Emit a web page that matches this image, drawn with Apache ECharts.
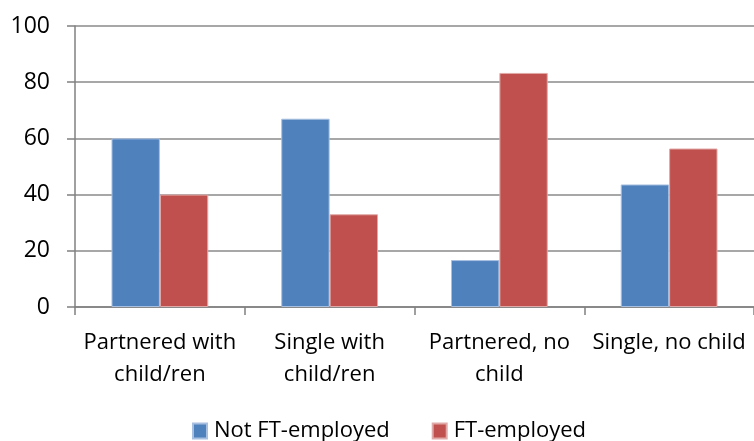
<!DOCTYPE html>
<html>
<head>
<meta charset="utf-8">
<script src="https://cdn.jsdelivr.net/npm/echarts@6/dist/echarts.min.js"></script>
<style>
html,body{margin:0;padding:0;background:#fff;}
#c{width:754px;height:441px;}
</style>
</head>
<body>
<div id="c"></div>
<script>
const categories = ['Partnered with\nchild/ren', 'Single with\nchild/ren', 'Partnered, no\nchild', 'Single, no child'];
const seriesNames = ['Not FT-employed', 'FT-employed'];
const notFTEmployed = [60, 67, 16.7, 43.6];
const ftEmployed = [40, 33, 83.3, 56.4];
const yTicks = [0, 20, 40, 60, 80, 100];

const FONT = '"Open Sans", sans-serif';
const chart = echarts.init(document.getElementById('c'), null, {renderer: 'canvas'});
chart.setOption({
  animation: false,
  backgroundColor: '#ffffff',
  grid: {left: 75, right: -2, top: 26, bottom: 134, containLabel: false},
  legend: {
    data: seriesNames,
    left: 192,
    top: 417,
    padding: 0,
    itemWidth: 14,
    itemHeight: 15,
    itemGap: 42,
    icon: 'rect',
    textStyle: {fontFamily: FONT, fontSize: 22, color: '#000', padding: [0, 0, 0, 2], lineHeight: 28}
  },
  xAxis: {
    type: 'category',
    data: categories,
    axisLine: {lineStyle: {color: '#808080', width: 1.5}},
    axisTick: {show: true, length: 8, lineStyle: {color: '#808080', width: 1.5}},
    axisLabel: {interval: 0, fontFamily: FONT, fontSize: 22, color: '#000', lineHeight: 32, margin: 20}
  },
  yAxis: {
    type: 'value',
    min: yTicks[0],
    max: yTicks[yTicks.length - 1],
    interval: 20,
    axisLine: {show: true, lineStyle: {color: '#808080', width: 1.5}},
    axisTick: {show: true, length: 8, lineStyle: {color: '#808080', width: 1.5}},
    splitLine: {show: true, lineStyle: {color: '#8a8a8a', width: 1.5}},
    axisLabel: {fontFamily: FONT, fontSize: 23, color: '#000', margin: 25}
  },
  series: [
    {
      name: seriesNames[0], type: 'bar', data: notFTEmployed,
      barGap: '0%', barCategoryGap: '43%',
      itemStyle: {color: '#4F81BD', borderColor: '#a7bfe0', borderWidth: 1}
    },
    {
      name: seriesNames[1], type: 'bar', data: ftEmployed,
      barGap: '0%', barCategoryGap: '43%',
      itemStyle: {color: '#C0504D', borderColor: '#e0a9a7', borderWidth: 1}
    }
  ]
});
</script>
</body>
</html>
